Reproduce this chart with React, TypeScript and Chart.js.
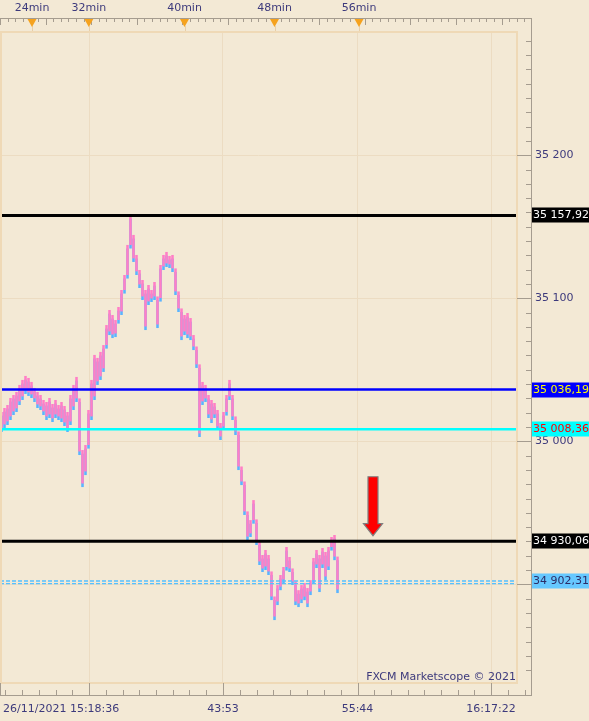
import React, { useEffect, useRef } from 'react';
import { Chart, registerables } from 'chart.js';

Chart.register(...registerables);

// Tick chart, one sample per slot: top of the ask trace and bottom of the bid trace
const askHigh = [
  35020.5, 35023.3, 35025.4, 35030.3, 35032.4, 35034.5, 35039.4, 35042.9, 35045.7, 35044.3,
  35041.5, 35037.3, 35034.5, 35032.4, 35028.9, 35027.5, 35030.3, 35026.1, 35028.9, 35025.4,
  35027.5, 35024.7, 35020.5, 35032.4, 35039.4, 35045.0, 35014.9, 34993.9, 34997.4, 35021.9,
  35042.9, 35060.4, 35058.3, 35062.5, 35067.3, 35081.3, 35091.8, 35088.3, 35084.8, 35093.9,
  35105.8, 35116.3, 35137.3, 35158.2, 35144.3, 35130.3, 35119.8, 35112.8, 35105.8, 35109.3,
  35105.8, 35111.4, 35100.2, 35123.3, 35130.3, 35132.4, 35129.6, 35130.3, 35114.2, 35100.2,
  35091.8, 35088.3, 35089.7, 35086.2, 35074.3, 35063.8, 35052.0, 35041.5, 35039.4, 35032.4,
  35028.9, 35026.8, 35021.9, 35012.8, 35020.5, 35032.4, 35042.9, 35032.4, 35014.9, 34997.4,
  34979.9, 34965.9, 34941.5, 34944.9, 34958.9, 34944.9, 34927.5, 34920.5, 34924.0, 34920.5,
  34905.1, 34889.0, 34899.5, 34906.5, 34912.1, 34926.1, 34919.1, 34906.5, 34898.1, 34895.9,
  34899.5, 34900.9, 34897.4, 34902.9, 34918.4, 34924.0, 34920.5, 34925.4, 34922.6, 34926.1,
  34933.1, 34934.5, 34906.5,
];
const bidLow = [
  35006.5, 35009.3, 35011.4, 35014.9, 35018.4, 35020.5, 35025.4, 35028.9, 35033.1, 35031.7,
  35030.3, 35027.5, 35023.3, 35021.9, 35018.4, 35014.9, 35016.3, 35013.5, 35016.3, 35014.9,
  35013.5, 35010.7, 35006.5, 35011.4, 35021.9, 35027.5, 34990.4, 34968.0, 34976.4, 34997.4,
  35014.9, 35028.9, 35039.4, 35042.9, 35048.5, 35067.3, 35074.3, 35072.2, 35072.9, 35084.8,
  35088.3, 35104.4, 35125.4, 35140.8, 35125.4, 35116.3, 35107.2, 35098.8, 35077.8, 35095.3,
  35097.4, 35098.8, 35079.2, 35109.3, 35119.8, 35121.9, 35121.2, 35118.4, 35102.3, 35090.4,
  35070.8, 35074.3, 35072.2, 35070.8, 35063.8, 35051.3, 35003.0, 35025.4, 35027.5, 35016.3,
  35012.8, 35016.3, 35007.9, 35000.9, 35007.9, 35020.5, 35028.9, 35014.9, 35004.4, 34979.9,
  34969.4, 34948.5, 34930.9, 34933.1, 34942.9, 34927.5, 34913.5, 34908.6, 34910.0, 34906.5,
  34889.0, 34875.0, 34885.5, 34895.9, 34900.9, 34915.6, 34908.6, 34899.5, 34885.5, 34884.1,
  34886.9, 34888.9, 34884.1, 34892.5, 34908.6, 34911.4, 34894.6, 34911.4, 34903.0, 34910.0,
  34925.4, 34916.9, 34893.9,
];
const SPREAD = 2.5;

// Horizontal price levels (with price tags on the right axis)
const levelValues = [35157.92, 35036.19, 35008.36, 34930.06, 34902.31];
const bidLineValue = 34900.5;

// Axes
const X_MIN = 0;
const X_MAX = 172.33;
const Y_MIN = 34831;
const Y_MAX = 35286.9;
const xTickPositions = [29.67, 74.33, 119.17, 163.67];
const xTickLabels = ['26/11/2021 15:18:36', '43:53', '55:44', '16:17:22'];
const topMarkerPositions = [10.67, 29.6, 61.5, 91.5, 119.67];
const topMarkerLabels = ['24min', '32min', '40min', '48min', '56min'];

// Signal arrow annotation
const arrowSlot = 124.33;
const arrowFrom = 34975.2;
const arrowTo = 34934.0;
const watermark = 'FXCM Marketscope \u00a9 2021';

// ---- styles ----
const FONT = "'DejaVu Sans', Verdana, sans-serif";
const BG = '#f3e9d5';
const GRID = '#ecdcc2';
const FRAME = '#efd9b6';
const AXIS = '#a59c8f';
const TEXT = '#3d3a7c';
const ASK = '#ff7fc6';
const BID = '#5ab4ff';
const levelStyles = [
  { line: '#000000', width: 3, bg: '#000000', fg: '#ffffff', dash: [] as number[] },
  { line: '#0000ff', width: 2.5, bg: '#0000ff', fg: '#ffff00', dash: [] as number[] },
  { line: '#00ffff', width: 2.5, bg: '#00ffff', fg: '#ff0000', dash: [] as number[] },
  { line: '#000000', width: 3, bg: '#000000', fg: '#ffffff', dash: [] as number[] },
  { line: '#55c0ff', width: 1.4, bg: '#66c8ff', fg: '#2c2c66', dash: [4, 2] },
];

const group = (s: string) => s.replace(/\B(?=(\d{3})+(?!\d))/g, ' ');
const fmtInt = (v: number) => group(String(Math.round(v)));
const fmtPrice = (v: number) => {
  const [i, d] = v.toFixed(2).split('.');
  return group(i) + ',' + d;
};

const decorPlugin = {
  id: 'decor',
  beforeDraw(chart: any) {
    const { ctx, width, height } = chart;
    ctx.save();
    ctx.fillStyle = BG;
    ctx.fillRect(0, 0, width, height);
    ctx.restore();
  },
  afterDatasetsDraw(chart: any) {
    const { ctx, chartArea: a } = chart;
    ctx.save();
    ctx.strokeStyle = FRAME;
    ctx.lineWidth = 2;
    ctx.strokeRect(a.left + 1, a.top + 1, a.right - a.left - 1, a.bottom - a.top - 1);
    ctx.restore();
  },
  afterDraw(chart: any) {
    const { ctx, chartArea: a, scales } = chart;
    const xs = scales.x;
    const ys = scales.y;
    const axisX = a.right + 14;
    const axisTop = a.top - 13;
    const axisBottom = a.bottom + 12;
    ctx.save();

    // axis lines + tick marks
    ctx.strokeStyle = AXIS;
    ctx.lineWidth = 1;
    ctx.beginPath();
    ctx.moveTo(0, axisTop + 0.5);
    ctx.lineTo(axisX + 1, axisTop + 0.5);
    ctx.moveTo(axisX + 0.5, axisTop);
    ctx.lineTo(axisX + 0.5, axisBottom + 1);
    ctx.moveTo(0, axisBottom + 0.5);
    ctx.lineTo(axisX + 1, axisBottom + 0.5);
    ys.ticks.forEach((t: any) => {
      const y = Math.round(ys.getPixelForValue(t.value)) + 0.5;
      const major = t.value % 100 === 0;
      ctx.moveTo(major ? a.right : axisX - 5, y);
      ctx.lineTo(axisX, y);
    });
    const majors = [X_MIN, ...xTickPositions];
    majors.forEach((v) => {
      const x = Math.round(xs.getPixelForValue(v)) + 0.5;
      ctx.moveTo(x, a.bottom);
      ctx.lineTo(x, axisBottom);
    });
    const minorX: number[] = [];
    const step0 = (xTickPositions[1] - xTickPositions[0]) / 8;
    for (let v = xTickPositions[0] - step0; v > X_MIN + 0.5; v -= step0) minorX.push(v);
    for (let k = 0; k < xTickPositions.length - 1; k++) {
      const s = (xTickPositions[k + 1] - xTickPositions[k]) / 8;
      for (let j = 1; j < 8; j++) minorX.push(xTickPositions[k] + s * j);
    }
    const last = xTickPositions[xTickPositions.length - 1];
    for (let v = last + step0; xs.getPixelForValue(v) < axisX - 2; v += step0) minorX.push(v);
    minorX.forEach((v) => {
      const x = Math.round(xs.getPixelForValue(v)) + 0.5;
      ctx.moveTo(x, axisBottom - 5);
      ctx.lineTo(x, axisBottom);
    });
    for (let k = 0, px = 0; px < axisX; k++, px = k * 7.6) {
      const x = Math.round(px) + 0.5;
      ctx.moveTo(x, axisTop);
      ctx.lineTo(x, axisTop + (k % 6 === 0 ? 7 : 4));
    }
    ctx.stroke();

    // top markers + labels
    ctx.font = `11px ${FONT}`;
    ctx.textAlign = 'center';
    ctx.textBaseline = 'middle';
    topMarkerPositions.forEach((v, i) => {
      const px = xs.getPixelForValue(v);
      ctx.strokeStyle = '#e8cfa8';
      ctx.beginPath();
      ctx.moveTo(Math.round(px) + 0.5, axisTop + 8);
      ctx.lineTo(Math.round(px) + 0.5, a.top);
      ctx.stroke();
      ctx.fillStyle = '#f5a21e';
      ctx.beginPath();
      ctx.moveTo(px - 4.5, axisTop + 1);
      ctx.lineTo(px + 4.5, axisTop + 1);
      ctx.lineTo(px, axisTop + 9);
      ctx.closePath();
      ctx.fill();
      ctx.fillStyle = TEXT;
      ctx.fillText(topMarkerLabels[i], px, 8.5);
    });

    // bottom labels
    xTickPositions.forEach((v, i) => {
      const px = xs.getPixelForValue(v);
      ctx.fillStyle = TEXT;
      if (i === 0) {
        ctx.textAlign = 'left';
        ctx.fillText(xTickLabels[i], a.left + 3, 709);
      } else {
        ctx.textAlign = 'center';
        ctx.fillText(xTickLabels[i], px, 709);
      }
    });

    // price tags
    levelValues.forEach((v, i) => {
      const st = levelStyles[i];
      const y = ys.getPixelForValue(v);
      ctx.fillStyle = st.bg;
      ctx.fillRect(axisX + 1, Math.round(y) - 7.5, 80, 15);
      ctx.fillStyle = st.fg;
      ctx.textAlign = 'left';
      ctx.fillText(fmtPrice(v), axisX + 2, Math.round(y) + 0.5);
    });

    // signal arrow
    const ax = xs.getPixelForValue(arrowSlot);
    const y0 = ys.getPixelForValue(arrowFrom);
    const y1 = ys.getPixelForValue(arrowTo);
    const headH = 12;
    ctx.beginPath();
    ctx.moveTo(ax - 5, y0);
    ctx.lineTo(ax + 5, y0);
    ctx.lineTo(ax + 5, y1 - headH);
    ctx.lineTo(ax + 9.5, y1 - headH);
    ctx.lineTo(ax, y1);
    ctx.lineTo(ax - 9.5, y1 - headH);
    ctx.lineTo(ax - 5, y1 - headH);
    ctx.closePath();
    ctx.fillStyle = '#ff0000';
    ctx.fill();
    ctx.strokeStyle = '#7f7f7f';
    ctx.lineWidth = 1.2;
    ctx.stroke();

    // watermark
    ctx.fillStyle = TEXT;
    ctx.textAlign = 'right';
    ctx.textBaseline = 'alphabetic';
    ctx.fillText(watermark, a.right - 1, a.bottom - 3);

    ctx.restore();
  },
};

export default function App() {
  const ref = useRef<HTMLCanvasElement | null>(null);

  useEffect(() => {
    if (!ref.current) return;
    Chart.defaults.font.family = FONT;
    Chart.defaults.font.size = 11;
    Chart.defaults.color = TEXT;

    // make each sample's range touch the previous one so the trace is continuous
    const hi: number[] = [];
    const lo: number[] = [];
    askHigh.forEach((h, i) => {
      let top = h;
      let bot = bidLow[i];
      if (i > 0) {
        if (bot > askHigh[i - 1] - SPREAD) bot = askHigh[i - 1] - SPREAD;
        if (top < bidLow[i - 1] + SPREAD) top = bidLow[i - 1] + SPREAD;
      }
      hi.push(top);
      lo.push(bot);
    });

    const slots = askHigh.map((_, i) => i + 0.5);
    const askData = slots.map((x, i) => ({ x, y: [lo[i] + SPREAD, hi[i]] }));
    const bidData = slots.map((x, i) => ({ x, y: [lo[i], hi[i] - SPREAD] }));

    const lineSets: any[] = levelValues.map((v, i) => ({
      type: 'line',
      data: [{ x: X_MIN, y: v }, { x: X_MAX, y: v }],
      borderColor: levelStyles[i].line,
      borderWidth: levelStyles[i].width,
      borderDash: levelStyles[i].dash,
      pointRadius: 0,
      fill: false,
      order: 0,
    }));
    lineSets.push({
      type: 'line',
      data: [{ x: X_MIN, y: bidLineValue }, { x: X_MAX, y: bidLineValue }],
      borderColor: levelStyles[4].line,
      borderWidth: levelStyles[4].width,
      borderDash: levelStyles[4].dash,
      pointRadius: 0,
      fill: false,
      order: 0,
    });

    const chart = new Chart(ref.current, {
      type: 'bar',
      data: {
        datasets: [
          ...lineSets,
          { type: 'bar', data: askData, backgroundColor: ASK, order: 1 },
          { type: 'bar', data: bidData, backgroundColor: BID, order: 2 },
        ],
      },
      options: {
        responsive: false,
        animation: false,
        devicePixelRatio: 1,
        layout: { padding: { top: 31, left: 0, right: 0, bottom: 0 } },
        plugins: { legend: { display: false }, tooltip: { enabled: false } },
        datasets: {
          bar: { grouped: false, barPercentage: 0.85, categoryPercentage: 1, borderWidth: 0 },
        },
        scales: {
          x: {
            type: 'linear',
            min: X_MIN,
            max: X_MAX,
            offset: false,
            afterBuildTicks: (s: any) => {
              s.ticks = xTickPositions.map((v) => ({ value: v }));
            },
            afterFit: (s: any) => {
              s.height = 38;
            },
            grid: { color: GRID, lineWidth: 1, drawTicks: false, offset: false },
            border: { display: false },
            ticks: { display: false },
          },
          y: {
            type: 'linear',
            position: 'right',
            min: Y_MIN,
            max: Y_MAX,
            afterBuildTicks: (s: any) => {
              const t: any[] = [];
              for (let v = Math.ceil(Y_MIN / 10) * 10; v <= Y_MAX; v += 10) t.push({ value: v });
              s.ticks = t;
            },
            afterFit: (s: any) => {
              s.width = 72;
            },
            grid: {
              color: (c: any) => (c.tick && c.tick.value % 100 === 0 ? GRID : 'rgba(0,0,0,0)'),
              drawTicks: false,
            },
            border: { display: false },
            ticks: {
              autoSkip: false,
              padding: 18,
              color: TEXT,
              font: { size: 11, family: FONT },
              callback: (v: any) => (Number(v) % 100 === 0 ? fmtInt(Number(v)) : ''),
            },
          },
        },
      } as any,
      plugins: [decorPlugin],
    } as any);

    return () => chart.destroy();
  }, []);

  return (
    <div style={{ position: 'absolute', left: 0, top: 0, width: 589, height: 721 }}>
      <canvas ref={ref} width={589} height={721} style={{ display: 'block' }} />
    </div>
  );
}
